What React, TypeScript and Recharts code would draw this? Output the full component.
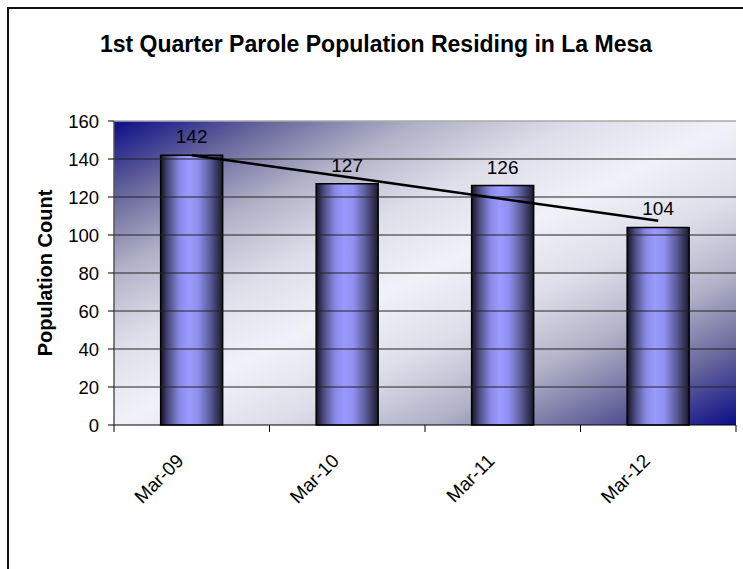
import React from 'react';
import { ComposedChart, Bar, Line, XAxis, YAxis, CartesianGrid, LabelList, ReferenceLine } from 'recharts';

const categories = ['Mar-09', 'Mar-10', 'Mar-11', 'Mar-12'];
const population = [142, 127, 126, 104];
const trendValues = [142, 130.5, 119, 107.5];
const yTicks = [0, 20, 40, 60, 80, 100, 120, 140, 160];
const gridTicks = [20, 40, 60, 80, 100, 120, 140];

const data = categories.map((c, i) => ({ name: c, population: population[i], trend: trendValues[i] }));

const W = 743;
const H = 569;
const margin = { top: 121, right: 7, bottom: 84, left: 34 };
const Y_AXIS_W = 80;
const X_AXIS_H = 60;
const BAND = (W - margin.left - Y_AXIS_W - margin.right) / categories.length;
const FONT = '"Liberation Sans", Arial, Helvetica, sans-serif';

const XTick = (props: any) => {
  const { x, y, payload, index } = props;
  const ax = x - 7;
  const ay = y + 37;
  return (
    <g>
      <line x1={x - BAND / 2} x2={x - BAND / 2} y1={y} y2={y + 7} stroke="#000" strokeWidth={1} />
      {index === categories.length - 1 && (
        <line x1={x + BAND / 2} x2={x + BAND / 2} y1={y} y2={y + 7} stroke="#000" strokeWidth={1} />
      )}
      <text
        x={ax}
        y={ay}
        transform={`rotate(-45 ${ax} ${ay})`}
        textAnchor="end"
        fontSize={19}
        fontFamily={FONT}
        fill="#000"
      >
        {payload.value}
      </text>
    </g>
  );
};

const YLabel = (props: any) => {
  const { viewBox } = props;
  const cx = viewBox.x + 11;
  const cy = viewBox.y + viewBox.height / 2;
  return (
    <text
      x={cx}
      y={cy}
      transform={`rotate(-90 ${cx} ${cy})`}
      textAnchor="middle"
      dominantBaseline="central"
      fontSize={20}
      fontWeight="bold"
      fontFamily={FONT}
      fill="#000"
    >
      Population Count
    </text>
  );
};

export default function App() {
  return (
    <div style={{ position: 'fixed', left: 0, top: 0, width: W, height: H, background: '#fff', overflow: 'hidden' }}>
      <div
        style={{
          position: 'absolute',
          left: 7,
          top: 7,
          right: -10,
          bottom: -10,
          borderTop: '2px solid #111',
          borderLeft: '2px solid #111',
        }}
      />
      <div
        style={{
          position: 'absolute',
          left: 0,
          top: 30,
          width: 752,
          textAlign: 'center',
          fontFamily: FONT,
          fontWeight: 'bold',
          fontSize: 23,
          lineHeight: '28px',
          color: '#000',
          whiteSpace: 'nowrap',
        }}
      >
        1st Quarter Parole Population Residing in La Mesa
      </div>
      <div style={{ position: 'absolute', left: 0, top: 0 }}>
        <ComposedChart width={W} height={H} data={data} margin={margin} barCategoryGap="30%">
          <defs>
            <linearGradient id="bgGrad" x1="0" y1="0" x2="1" y2="1">
              <stop offset="0" stopColor="#0c0c88" />
              <stop offset="0.125" stopColor="#66669c" />
              <stop offset="0.25" stopColor="#b2b2c8" />
              <stop offset="0.375" stopColor="#dedeea" />
              <stop offset="0.5" stopColor="#f1f1f8" />
              <stop offset="0.625" stopColor="#dedeea" />
              <stop offset="0.75" stopColor="#b2b2c8" />
              <stop offset="0.875" stopColor="#66669c" />
              <stop offset="1" stopColor="#0c0c88" />
            </linearGradient>
            <linearGradient id="barGrad" x1="0" y1="0" x2="1" y2="0">
              <stop offset="0" stopColor="#121226" />
              <stop offset="0.12" stopColor="#4a4a7e" />
              <stop offset="0.3" stopColor="#8888e4" />
              <stop offset="0.45" stopColor="#9a9aff" />
              <stop offset="0.6" stopColor="#9090f0" />
              <stop offset="0.8" stopColor="#5a5a98" />
              <stop offset="1" stopColor="#1a1a2c" />
            </linearGradient>
          </defs>
          <CartesianGrid horizontal={false} vertical={false} fill="url(#bgGrad)" fillOpacity={1} />
          {gridTicks.map((t) => (
            <ReferenceLine key={t} y={t} stroke="#222" strokeWidth={1} />
          ))}
          <ReferenceLine y={160} stroke="#aaa" strokeWidth={1.5} />
          <XAxis
            dataKey="name"
            height={X_AXIS_H}
            tickLine={false}
            tickSize={0}
            tickMargin={0}
            axisLine={{ stroke: '#000', strokeWidth: 1 }}
            tick={<XTick />}
            interval={0}
          />
          <YAxis
            domain={[0, 160]}
            ticks={yTicks}
            width={Y_AXIS_W}
            tickSize={6}
            tickMargin={9}
            tickLine={{ stroke: '#000' }}
            axisLine={{ stroke: '#555', strokeWidth: 1.5 }}
            tick={{ fontSize: 18.5, fill: '#000', fontFamily: FONT }}
            interval={0}
            label={<YLabel />}
          />
          <YAxis
            yAxisId="r"
            orientation="right"
            width={0}
            domain={[0, 160]}
            tick={false}
            tickLine={false}
            axisLine={{ stroke: '#999', strokeWidth: 1.5 }}
          />
          <Bar dataKey="population" fill="url(#barGrad)" stroke="#000" strokeWidth={1.5} isAnimationActive={false}>
            <LabelList dataKey="population" position="top" offset={12} fontSize={19} fill="#000" fontFamily={FONT} />
          </Bar>
          <Line
            dataKey="trend"
            type="linear"
            stroke="#000"
            strokeWidth={2.5}
            dot={false}
            activeDot={false}
            isAnimationActive={false}
          />
        </ComposedChart>
      </div>
    </div>
  );
}
